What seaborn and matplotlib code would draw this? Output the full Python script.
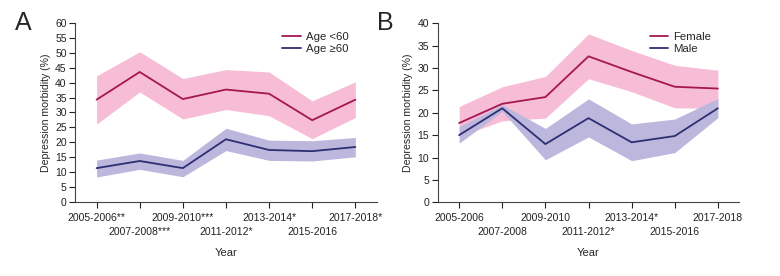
import pandas as pd
import matplotlib.pyplot as plt
import seaborn as sns
import numpy as np

years = ["2005-2006", "2007-2008", "2009-2010", "2011-2012", "2013-2014", "2015-2016", "2017-2018"]
labels_a = ["2005-2006**", "2007-2008***", "2009-2010***", "2011-2012*", "2013-2014*", "2015-2016", "2017-2018*"]
labels_b = ["2005-2006", "2007-2008", "2009-2010", "2011-2012*", "2013-2014*", "2015-2016", "2017-2018"]

# panel A: age groups
young = [34.3, 43.6, 34.5, 37.7, 36.3, 27.4, 34.3]
young_hi = [42.3, 50.4, 41.4, 44.4, 43.6, 33.9, 40.3]
young_lo = [26.1, 36.9, 27.8, 31.0, 28.9, 21.2, 28.3]
old = [11.3, 13.7, 11.3, 21.0, 17.4, 17.0, 18.4]
old_hi = [14.0, 16.4, 13.9, 24.7, 20.7, 20.5, 21.6]
old_lo = [8.3, 10.9, 8.4, 17.2, 13.9, 13.7, 15.1]

# panel B: sex
female = [17.7, 22.0, 23.5, 32.6, 29.1, 25.8, 25.4]
female_hi = [21.4, 25.8, 28.1, 37.6, 33.9, 30.6, 29.5]
female_lo = [14.7, 18.2, 18.8, 27.6, 24.7, 21.1, 21.0]
male = [15.0, 21.0, 13.0, 18.8, 13.4, 14.8, 21.0]
male_hi = [16.9, 21.8, 16.5, 23.1, 17.5, 18.6, 23.2]
male_lo = [13.2, 20.3, 9.5, 14.6, 9.3, 11.1, 18.9]

RED = "#a5174f"
BLUE = "#2e2f72"
PINK = "#f7bcd6"
LILAC = "#bdb7de"

sns.set_style("ticks")
plt.rcParams['font.family'] = ['Liberation Sans', 'DejaVu Sans']


def draw_panel(ax, groups, ymax, ticklabels, letter):
    x = np.arange(len(years))
    # bands first so lines sit on top
    for name, mid, lo, hi, line_col, band_col in groups:
        ax.fill_between(x, lo, hi, color=band_col, lw=0, zorder=1)
    rows = []
    for name, mid, lo, hi, line_col, band_col in groups:
        rows.append(pd.DataFrame({"x": x, "value": mid, "group": name}))
    df = pd.concat(rows)
    sns.lineplot(data=df, x="x", y="value", hue="group",
                 palette={g[0]: g[4] for g in groups}, lw=1.3, ax=ax, zorder=3)

    ax.set_xlim(-0.5, 6.5)
    ax.set_ylim(0, ymax)
    ax.set_yticks(np.arange(0, ymax + 1, 5))
    ax.set_xticks(x)
    ax.set_xticklabels(ticklabels)
    ax.tick_params(length=4, width=0.8, pad=2, labelsize=7.5, colors="#222222")
    # stagger the year labels over two rows
    for i, t in enumerate(ax.xaxis.get_major_ticks()):
        t.set_pad(4 if i % 2 == 0 else 14)
    for side in ["left", "bottom"]:
        ax.spines[side].set_linewidth(0.8)
        ax.spines[side].set_color("#444444")
    sns.despine(ax=ax)
    ax.set_xlabel("Year", fontsize=8, labelpad=8)
    ax.set_ylabel("Depression morbidity (%)", fontsize=7.6, labelpad=3)
    leg = ax.legend(loc="upper right", frameon=False, fontsize=8.2, handlelength=1.6,
                    handletextpad=0.45, labelspacing=0.2, bbox_to_anchor=(0.94, 1.01))
    for h in leg.get_lines():
        h.set_linewidth(1.3)
    ax.text(-0.2, 1.07, letter, transform=ax.transAxes, fontsize=18, va="top", ha="left")


fig = plt.figure(figsize=(7.8, 2.76), dpi=100)
ax1 = fig.add_axes([0.0962, 0.269, 0.387, 0.647])
ax2 = fig.add_axes([0.561, 0.267, 0.387, 0.649])

draw_panel(ax1, [("Age <60", young, young_lo, young_hi, RED, PINK),
                 ("Age \u226560", old, old_lo, old_hi, BLUE, LILAC)], 60, labels_a, "A")
draw_panel(ax2, [("Female", female, female_lo, female_hi, RED, PINK),
                 ("Male", male, male_lo, male_hi, BLUE, LILAC)], 40, labels_b, "B")

plt.savefig("out.png", dpi=100)
